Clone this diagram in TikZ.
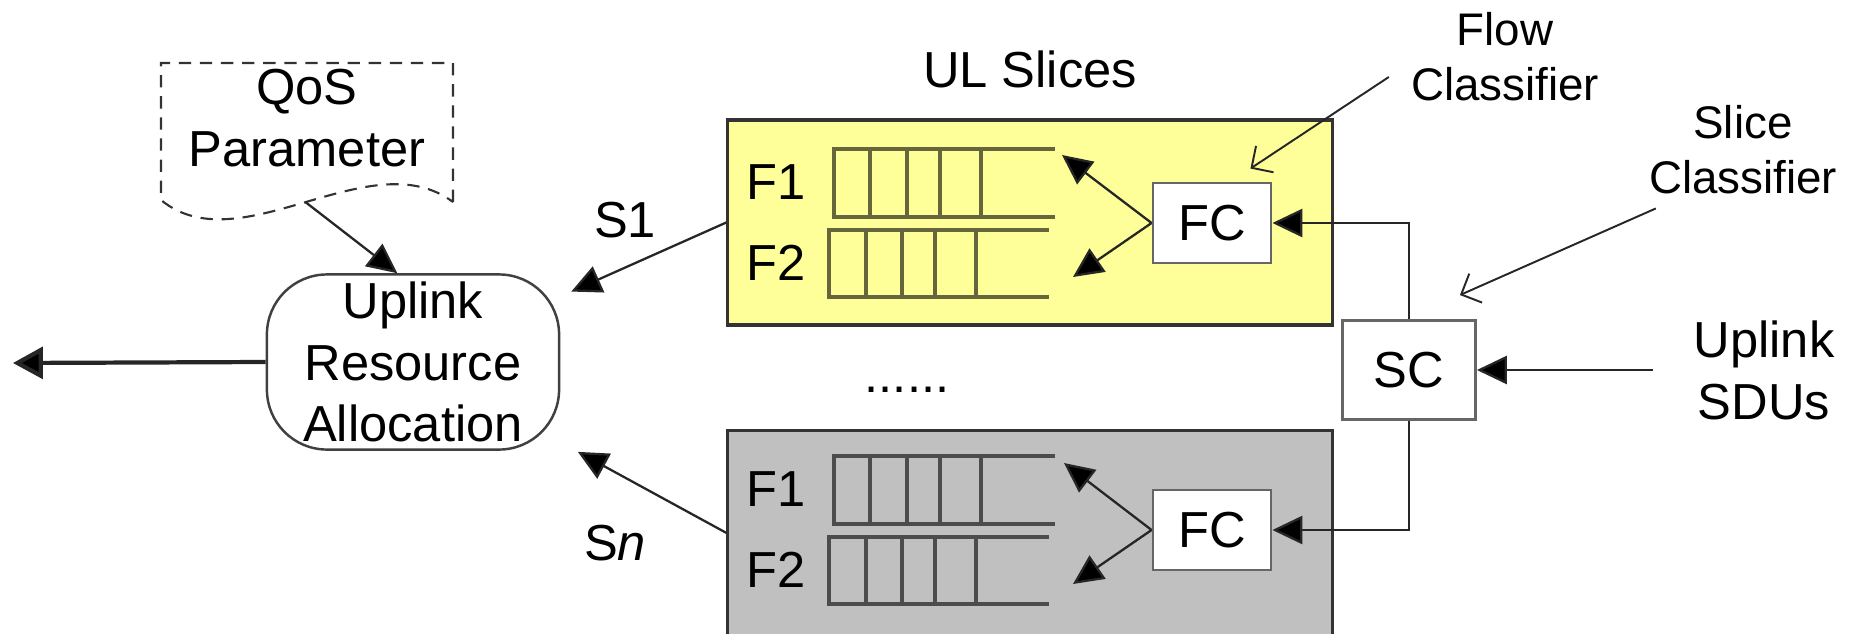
\documentclass[tikz,border=0pt]{standalone}
\usepackage{fontspec}
\setmainfont{Liberation Sans}
\usetikzlibrary{arrows.meta}
\usetikzlibrary{positioning}
\definecolor{sliceyellow}{RGB}{255,255,153}
\definecolor{slicegray}{RGB}{192,192,192}
\tikzset{%
  myedge/.style={->, >={Triangle[length=8.5pt, width=8pt, fill=black]}, line width=0.65pt, draw=black!85},
  myhint/.style={->, >={Straight Barb[length=4.5pt, width=9pt]}, line width=0.55pt, draw=black!85},
  mytext/.style={font=\fontsize{14.4}{17.6}\selectfont, align=center, inner sep=1pt},
  mysmall/.style={font=\fontsize{13}{15.6}\selectfont, align=center, inner sep=1pt},
  mybox/.style={rectangle, draw=black!60, line width=0.8pt, fill=white, mytext},
  myslice/.style={rectangle, draw=black!80, line width=0.9pt, minimum width=6.04cm, minimum height=2.05cm},
  myqueue/.style={draw=black, draw opacity=0.6, line width=0.9pt}
}

\begin{document}
\begin{tikzpicture}[x=0.01cm, y=-0.01cm]
  \useasboundingbox (0,0) rectangle (1854,633);

  \node[myslice, fill=sliceyellow] (slice1) at (1030,222.5) {};
  \node[myslice, fill=slicegray, below=1.02cm] (slicen) at (slice1.south) {};
  \node[mytext, above=0.265cm] (ultitle) at (slice1.north) {UL Slices};
  \node[mytext, anchor=base] (dots) at (907,392) {......};

  \node[mytext] (s1f1) at (776,182) {F1};
  \node[mytext] (s1f2) at (776,263) {F2};
  \node[mytext] (snf1) at (776,489) {F1};
  \node[mytext] (snf2) at (776,570) {F2};

  \draw[myqueue] (1055,149) -- (834,149) -- (834,217) -- (1055,217)
    (870,149) -- (870,217) (907,149) -- (907,217) (940,149) -- (940,217) (981,149) -- (981,217);
  \draw[myqueue] (1049,230) -- (829,230) -- (829,297) -- (1049,297)
    (866,230) -- (866,297) (902,230) -- (902,297) (935,230) -- (935,297) (976,230) -- (976,297);
  \draw[myqueue] (1055,456) -- (834,456) -- (834,524) -- (1055,524)
    (870,456) -- (870,524) (907,456) -- (907,524) (940,456) -- (940,524) (981,456) -- (981,524);
  \draw[myqueue] (1049,537) -- (829,537) -- (829,604) -- (1049,604)
    (866,537) -- (866,604) (902,537) -- (902,604) (935,537) -- (935,604) (976,537) -- (976,604);

  \node[mybox, minimum width=1.18cm, minimum height=0.8cm] (fc1) at (1212,223) {FC};
  \node[mybox, minimum width=1.18cm, minimum height=0.8cm] (fcn) at (1212,530) {FC};
  \node[mybox, minimum width=1.33cm, minimum height=0.99cm] (sc) at (1409,370) {SC};

  \coordinate (q11) at (1062,155);
  \coordinate (q12) at (1073,277);
  \coordinate (qn1) at (1064,463);
  \coordinate (qn2) at (1073,584);

  \draw[myedge] (fc1.west) -- (q11);
  \draw[myedge] (fc1.west) -- (q12);
  \draw[myedge] (fcn.west) -- (qn1);
  \draw[myedge] (fcn.west) -- (qn2);
  \draw[myedge] (sc.north) |- (fc1.east);
  \draw[myedge] (sc.south) |- (fcn.east);

  \node[mytext] (sdu) at (1764,370) {Uplink\\SDUs};
  \draw[myedge] ([xshift=-0.36cm]sdu.west) -- (sc.east);

  \node[mysmall] (flowlbl) at (1505,57) {Flow\\Classifier};
  \node[mysmall] (slicelbl) at (1743,150) {Slice\\Classifier};
  \draw[myhint] ([xshift=-0.18cm, yshift=-0.2cm]flowlbl.west) -- ([xshift=-0.22cm, yshift=0.13cm]fc1.north east);
  \draw[myhint] ([xshift=0.11cm, yshift=-0.1cm]slicelbl.south west) -- ([xshift=-0.17cm, yshift=0.24cm]sc.north east);

  \draw[dashed, dash pattern=on 3.5pt off 2.5pt, line width=0.6pt, draw=black!80]
    (453,202) -- (453,63) -- (161,63) -- (161,200)
    .. controls (240,265) and (370,140) .. (453,202) coordinate[pos=0.5] (qosout);
  \node[mytext] (qos) at (307,118) {QoS\\Parameter};

  \node[mytext, draw=black!75, fill=white, line width=0.7pt, rounded corners=0.6cm,
    minimum width=2.92cm, minimum height=1.75cm] (ura) at (413,362) {Uplink\\Resource\\Allocation};
  \coordinate (out) at (13,363);

  \draw[myedge] (qosout) -- (ura.100);
  \draw[myedge, shorten >=0.12cm] (slice1.west) -- (ura);
  \draw[myedge, shorten >=0.2cm] (slicen.west) -- (ura);
  \draw[myedge, line width=1.2pt, >={Triangle[length=8.5pt, width=9pt, fill=black]}] (ura.west) -- (out);

  \node[mytext] (s1lbl) at (625,220) {S1};
  \node[mytext] (snlbl) at (615,543) {S\textit{n}};
\end{tikzpicture}
\end{document}
